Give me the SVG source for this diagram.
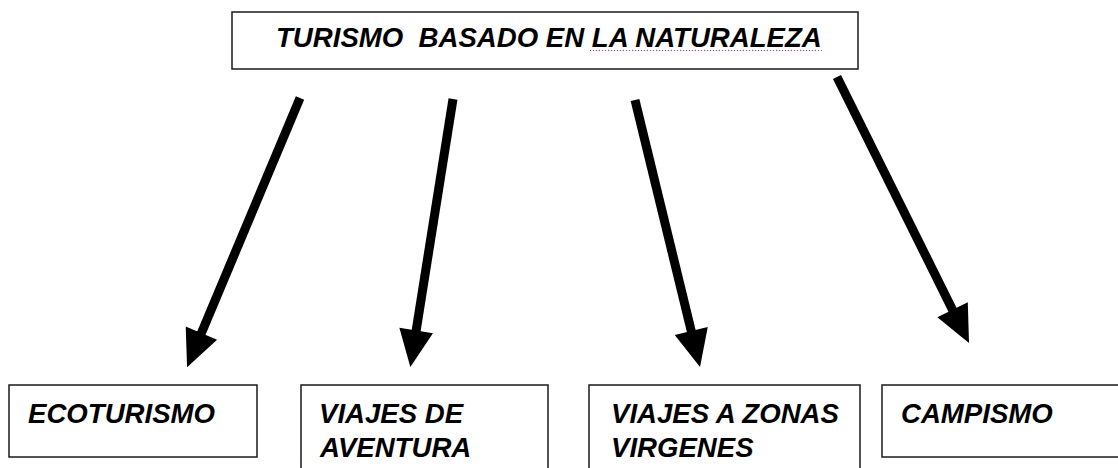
<svg xmlns="http://www.w3.org/2000/svg" width="1118" height="468" viewBox="0 0 1118 468">
<style>
.box{fill:#fff;stroke:#1a1a1a;stroke-width:1.5}
.lbl{font-family:"Liberation Sans",Arial,sans-serif;font-style:italic;font-weight:bold;font-size:27.6px;fill:#000;white-space:pre}
.arr{stroke:#000;stroke-width:9;fill:none;marker-end:url(#ah)}
</style>
<defs>
<marker id="ah" markerUnits="userSpaceOnUse" viewBox="0 -18 37 36" refX="1" refY="0" markerWidth="37" markerHeight="36" orient="auto" overflow="visible">
<path d="M0,-17 L37,0 L0,17 z" fill="#000"/>
</marker>
</defs>
<rect width="1118" height="468" fill="#fff"/>
<g id="node-top">
<rect class="box" x="232" y="12" width="626" height="57"/>
<text class="lbl" x="276" y="47">TURISMO  BASADO EN LA NATURALEZA</text>
<line x1="590" y1="50.5" x2="822" y2="50.5" stroke="#d020d0" stroke-width="1" stroke-dasharray="1,2"/>
</g>
<g id="node-ecoturismo">
<rect class="box" x="9" y="385" width="248" height="72"/>
<text class="lbl" x="28" y="423">ECOTURISMO</text>
</g>
<g id="node-aventura">
<rect class="box" x="301" y="385" width="247" height="90"/>
<text class="lbl" x="319" y="423">VIAJES DE</text>
<text class="lbl" x="320" y="457">AVENTURA</text>
</g>
<g id="node-virgenes">
<rect class="box" x="589" y="385" width="271" height="90"/>
<text class="lbl" x="611" y="423">VIAJES A ZONAS</text>
<text class="lbl" x="611" y="457">VIRGENES</text>
</g>
<g id="node-campismo">
<rect class="box" x="882" y="385" width="240" height="72"/>
<text class="lbl" x="901" y="423">CAMPISMO</text>
</g>
<g id="connectors">
<line class="arr" x1="300" y1="98" x2="201" y2="334"/>
<line class="arr" x1="453" y1="99" x2="416" y2="331.5"/>
<line class="arr" x1="635" y1="100" x2="691.5" y2="332"/>
<line class="arr" x1="837" y1="77" x2="953" y2="310.7"/>
</g>
</svg>
